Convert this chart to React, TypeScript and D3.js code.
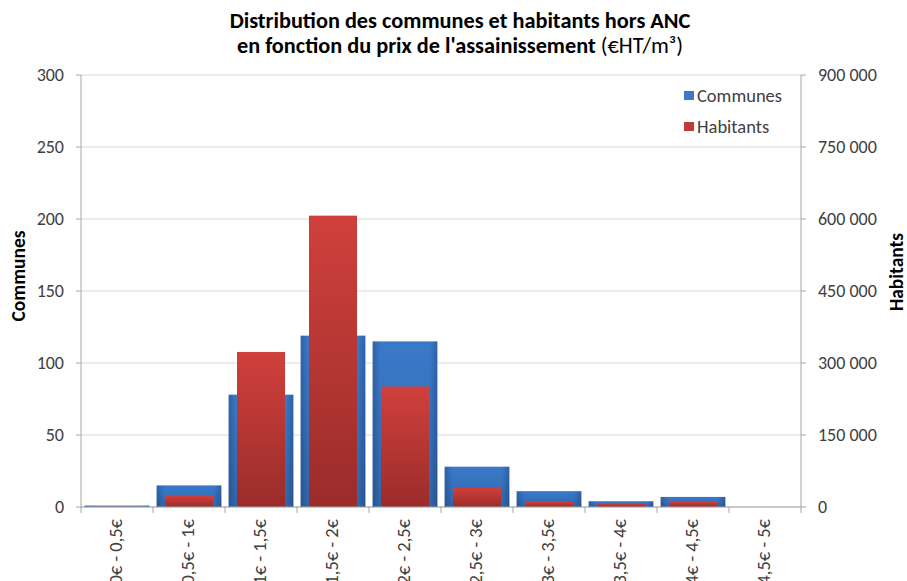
import React from 'react';
import * as d3 from 'd3';

const categories = ["0€ - 0,5€", "0,5€ - 1€", "1€ - 1,5€", "1,5€ - 2€", "2€ - 2,5€", "2,5€ - 3€", "3€ - 3,5€", "3,5€ - 4€", "4€ - 4,5€", "4,5€ - 5€"];
const communes = [1, 15, 78, 119, 115, 28, 11, 4, 7, 0];
const habitants = [500, 24000, 323000, 607000, 251000, 40000, 11000, 8000, 11000, 0];
const leftTicks = [0, 50, 100, 150, 200, 250, 300];
const rightTicks = [0, 150000, 300000, 450000, 600000, 750000, 900000];

const W = 907, H = 581;
const M = { left: 81, right: 801, top: 75, bottom: 507 };
const FONT = "Carlito, Lato, 'Open Sans', sans-serif";

export default function App() {
  const x = d3.scaleBand<string>().domain(categories).range([M.left, M.right]).paddingInner(0).paddingOuter(0);
  const yL = d3.scaleLinear().domain([0, 300]).range([M.bottom, M.top]);
  const yR = d3.scaleLinear().domain([0, 900000]).range([M.bottom, M.top]);
  const bw = x.bandwidth();
  const blueW = bw * 0.9;
  const redW = bw * 0.667;
  const fmt = (v: number) => d3.format(",")(v).replace(/,/g, " ");

  return (
    <svg width={W} height={H} style={{ position: 'absolute', left: 0, top: 0, background: '#fff' }} fontFamily={FONT}>
      <defs>
        <linearGradient id="blueH" x1="0" y1="0" x2="1" y2="0">
          <stop offset="0%" stopColor="#2e62a8" />
          <stop offset="12%" stopColor="#3a79c9" />
          <stop offset="88%" stopColor="#3a79c9" />
          <stop offset="100%" stopColor="#2e62a8" />
        </linearGradient>
        <linearGradient id="blueV" x1="0" y1="0" x2="0" y2="1">
          <stop offset="0%" stopColor="#000" stopOpacity="0" />
          <stop offset="100%" stopColor="#000" stopOpacity="0.15" />
        </linearGradient>
        <linearGradient id="redV" x1="0" y1="0" x2="0" y2="1">
          <stop offset="0%" stopColor="#d0403c" />
          <stop offset="100%" stopColor="#9a2c2a" />
        </linearGradient>
      </defs>

      {/* gridlines */}
      {leftTicks.map(t => (
        <line key={'g' + t} x1={M.left} x2={M.right} y1={yL(t)} y2={yL(t)} stroke="#d9d9d9" strokeWidth={1} />
      ))}

      {/* blue bars */}
      {categories.map((c, i) => {
        const h = M.bottom - yL(communes[i]);
        if (communes[i] <= 0) return null;
        const bx = (x(c) as number) + (bw - blueW) / 2;
        return (
          <g key={'b' + c}>
            <rect x={bx} y={yL(communes[i])} width={blueW} height={h} fill="url(#blueH)" />
            <rect x={bx} y={yL(communes[i])} width={blueW} height={h} fill="url(#blueV)" />
          </g>
        );
      })}

      {/* red bars */}
      {categories.map((c, i) => {
        if (habitants[i] <= 0) return null;
        const bx = (x(c) as number) + (bw - redW) / 2;
        return (
          <rect key={'r' + c} x={bx} y={yR(habitants[i])} width={redW} height={M.bottom - yR(habitants[i])} fill="url(#redV)" />
        );
      })}

      {/* axes lines */}
      <line x1={M.left} x2={M.left} y1={M.top} y2={M.bottom} stroke="#a6a6a6" />
      <line x1={M.right} x2={M.right} y1={M.top} y2={M.bottom} stroke="#a6a6a6" />
      <line x1={M.left} x2={M.right} y1={M.bottom} y2={M.bottom} stroke="#a6a6a6" />

      {/* left ticks */}
      {leftTicks.map(t => (
        <g key={'lt' + t}>
          <line x1={M.left - 5} x2={M.left} y1={yL(t)} y2={yL(t)} stroke="#a6a6a6" />
          <text x={64} y={yL(t)} dy="0.35em" textAnchor="end" fontSize={18} fill="#404040">{t}</text>
        </g>
      ))}

      {/* right ticks */}
      {rightTicks.map(t => (
        <g key={'rt' + t}>
          <line x1={M.right} x2={M.right + 5} y1={yR(t)} y2={yR(t)} stroke="#a6a6a6" />
          <text x={818} y={yR(t)} dy="0.35em" textAnchor="start" fontSize={18} fill="#404040">{fmt(t)}</text>
        </g>
      ))}

      {/* x ticks */}
      {[...categories.map(c => x(c) as number), M.right].map((px, i) => (
        <line key={'xt' + i} x1={px} x2={px} y1={M.bottom} y2={M.bottom + 6} stroke="#a6a6a6" />
      ))}

      {/* x labels */}
      {categories.map(c => {
        const cx = (x(c) as number) + bw / 2 - 1;
        return (
          <text key={'xl' + c} transform={`translate(${cx},${M.bottom + 12}) rotate(-90)`} dy="0.35em" textAnchor="end" fontSize={18.5} fill="#404040">{c}</text>
        );
      })}

      {/* axis titles */}
      <text transform={`translate(18,276) rotate(-90)`} dy="0.35em" textAnchor="middle" fontSize={19.5} fontWeight="bold" fill="#000">Communes</text>
      <text transform={`translate(896,272) rotate(-90)`} dy="0.35em" textAnchor="middle" fontSize={19.5} fontWeight="bold" fill="#000">Habitants</text>

      {/* title */}
      <text x={460} y={28} textAnchor="middle" fontSize={22.3} fontWeight="bold" fill="#000">Distribution des communes et habitants hors ANC</text>
      <text x={460} y={53} textAnchor="middle" fontSize={22.3} fontWeight="bold" fill="#000">
        en fonction du prix de l'assainissement <tspan fontWeight="normal">(€HT/m³)</tspan>
      </text>

      {/* legend */}
      <rect x={684} y={91} width={10} height={9} fill="#3a79c9" />
      <text x={697} y={96} dy="0.35em" fontSize={18.5} fill="#404040">Communes</text>
      <rect x={684} y={122} width={10} height={9} fill="#c0393b" />
      <text x={697} y={127} dy="0.35em" fontSize={18.5} fill="#404040">Habitants</text>
    </svg>
  );
}
